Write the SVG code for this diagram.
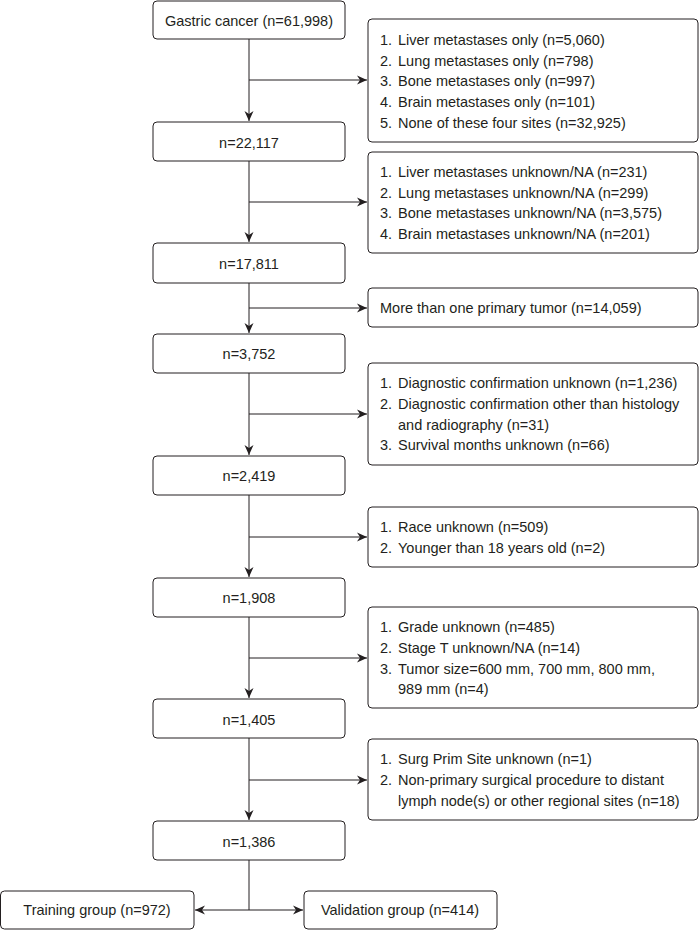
<svg xmlns="http://www.w3.org/2000/svg" width="699" height="930" viewBox="0 0 699 930">
<defs>
<marker id="ah" viewBox="0 0 10 10" refX="10" refY="5" markerWidth="10" markerHeight="10" markerUnits="userSpaceOnUse" orient="auto">
<path d="M0,0.5 L10,5 L0,9.5 L3,5 Z" fill="#231f20"/>
</marker>
</defs>
<style>
rect{fill:#fff;stroke:#231f20;stroke-width:1}
text{font-family:"Liberation Sans",Arial,sans-serif;font-size:14.5px;fill:#231f20}
.c{text-anchor:middle}
.e path{fill:none;stroke:#231f20;stroke-width:1}
</style>
<rect x="0" y="0" width="699" height="930" style="stroke:none"/>
<g class="e" id="edges">
<path d="M249,39 V121" marker-end="url(#ah)"/>
<path d="M249,80 H367" marker-end="url(#ah)"/>
<path d="M249,161 V242" marker-end="url(#ah)"/>
<path d="M249,202 H367" marker-end="url(#ah)"/>
<path d="M249,283 V333" marker-end="url(#ah)"/>
<path d="M249,308 H367" marker-end="url(#ah)"/>
<path d="M249,373 V455" marker-end="url(#ah)"/>
<path d="M249,414 H367" marker-end="url(#ah)"/>
<path d="M249,495 V577" marker-end="url(#ah)"/>
<path d="M249,537 H367" marker-end="url(#ah)"/>
<path d="M249,617 V698" marker-end="url(#ah)"/>
<path d="M249,658 H367" marker-end="url(#ah)"/>
<path d="M249,738 V820" marker-end="url(#ah)"/>
<path d="M249,780 H367" marker-end="url(#ah)"/>
<path d="M249,860 V910"/>
<path d="M249,910 H195" marker-end="url(#ah)"/>
<path d="M249,910 H303" marker-end="url(#ah)"/>
</g>
<g id="n1"><rect x="153" y="1" width="192" height="38" rx="4"/><text class="c" x="249" y="26">Gastric cancer (n=61,998)</text></g>
<g id="s1"><rect x="368" y="19" width="330" height="123" rx="4"/>
<text x="380" y="45">1.</text><text x="398" y="45">Liver metastases only (n=5,060)</text>
<text x="380" y="66">2.</text><text x="398" y="66">Lung metastases only (n=798)</text>
<text x="380" y="86">3.</text><text x="398" y="86">Bone metastases only (n=997)</text>
<text x="380" y="107">4.</text><text x="398" y="107">Brain metastases only (n=101)</text>
<text x="380" y="128">5.</text><text x="398" y="128">None of these four sites (n=32,925)</text></g>
<g id="n2"><rect x="153" y="122" width="192" height="39" rx="4"/><text class="c" x="249" y="148">n=22,117</text></g>
<g id="s2"><rect x="368" y="152" width="330" height="101" rx="4"/>
<text x="380" y="177">1.</text><text x="398" y="177">Liver metastases unknown/NA (n=231)</text>
<text x="380" y="198">2.</text><text x="398" y="198">Lung metastases unknown/NA (n=299)</text>
<text x="380" y="218">3.</text><text x="398" y="218">Bone metastases unknown/NA (n=3,575)</text>
<text x="380" y="239">4.</text><text x="398" y="239">Brain metastases unknown/NA (n=201)</text></g>
<g id="n3"><rect x="153" y="243" width="192" height="40" rx="4"/><text class="c" x="249" y="269">n=17,811</text></g>
<g id="s3"><rect x="368" y="288" width="330" height="39" rx="4"/>
<text x="380" y="313">More than one primary tumor (n=14,059)</text></g>
<g id="n4"><rect x="153" y="334" width="192" height="39" rx="4"/><text class="c" x="249" y="359">n=3,752</text></g>
<g id="s4"><rect x="368" y="363" width="330" height="102" rx="4"/>
<text x="380" y="388">1.</text><text x="398" y="388">Diagnostic confirmation unknown (n=1,236)</text>
<text x="380" y="409">2.</text><text x="398" y="409">Diagnostic confirmation other than histology</text>
<text x="398" y="430">and radiography (n=31)</text>
<text x="380" y="450">3.</text><text x="398" y="450">Survival months unknown (n=66)</text></g>
<g id="n5"><rect x="153" y="456" width="192" height="39" rx="4"/><text class="c" x="249" y="481">n=2,419</text></g>
<g id="s5"><rect x="368" y="507" width="330" height="60" rx="4"/>
<text x="380" y="532">1.</text><text x="398" y="532">Race unknown (n=509)</text>
<text x="380" y="553">2.</text><text x="398" y="553">Younger than 18 years old (n=2)</text></g>
<g id="n6"><rect x="153" y="578" width="192" height="39" rx="4"/><text class="c" x="249" y="603">n=1,908</text></g>
<g id="s6"><rect x="368" y="607" width="330" height="101" rx="4"/>
<text x="380" y="632">1.</text><text x="398" y="632">Grade unknown (n=485)</text>
<text x="380" y="653">2.</text><text x="398" y="653">Stage T unknown/NA (n=14)</text>
<text x="380" y="674">3.</text><text x="398" y="674">Tumor size=600 mm, 700 mm, 800 mm,</text>
<text x="398" y="694">989 mm (n=4)</text></g>
<g id="n7"><rect x="153" y="699" width="192" height="39" rx="4"/><text class="c" x="249" y="725">n=1,405</text></g>
<g id="s7"><rect x="368" y="739" width="330" height="81" rx="4"/>
<text x="380" y="764">1.</text><text x="398" y="764">Surg Prim Site unknown (n=1)</text>
<text x="380" y="785">2.</text><text x="398" y="785">Non-primary surgical procedure to distant</text>
<text x="398" y="806">lymph node(s) or other regional sites (n=18)</text></g>
<g id="n8"><rect x="153" y="821" width="192" height="39" rx="4"/><text class="c" x="249" y="847">n=1,386</text></g>
<g id="n9"><rect x="0.5" y="891" width="193.5" height="38" rx="4"/><text class="c" x="97" y="915">Training group (n=972)</text></g>
<g id="n10"><rect x="304" y="891" width="193" height="38" rx="4"/><text class="c" x="400" y="915">Validation group (n=414)</text></g>
</svg>
